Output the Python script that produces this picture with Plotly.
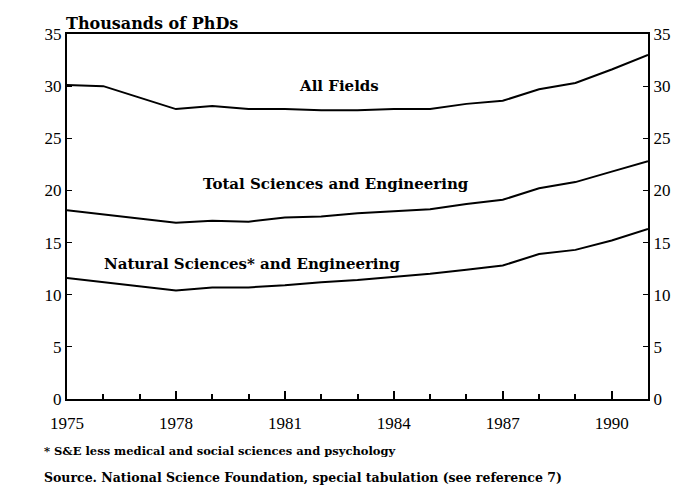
import plotly.graph_objects as go

years = list(range(1975, 1992))
all_fields = [30.1, 30.0, 28.9, 27.8, 28.1, 27.8, 27.8, 27.7, 27.7, 27.8, 27.8, 28.3, 28.6, 29.7, 30.3, 31.6, 33.0]
total_se = [18.1, 17.7, 17.3, 16.9, 17.1, 17.0, 17.4, 17.5, 17.8, 18.0, 18.2, 18.7, 19.1, 20.2, 20.8, 21.8, 22.8]
natural_se = [11.6, 11.2, 10.8, 10.4, 10.7, 10.7, 10.9, 11.2, 11.4, 11.7, 12.0, 12.4, 12.8, 13.9, 14.3, 15.2, 16.3]

x_ticks = [1975, 1978, 1981, 1984, 1987, 1990]
y_ticks = [0, 5, 10, 15, 20, 25, 30, 35]

FONT = "Liberation Serif"
LFONT = "DejaVu Serif"

fig = go.Figure()
for name, vals in [("All Fields", all_fields), ("Total Sciences and Engineering", total_se),
                   ("Natural Sciences* and Engineering", natural_se)]:
    fig.add_trace(go.Scatter(x=years, y=vals, mode="lines", name=name,
                             line=dict(color="black", width=2), showlegend=False))
fig.add_trace(go.Scatter(x=[years[0]], y=[0], yaxis="y2", mode="lines",
                         line=dict(width=0), showlegend=False, hoverinfo="skip"))

axis_font = dict(family=FONT, size=17, color="black")
fig.update_layout(
    width=681, height=481,
    margin=dict(l=59, r=41, t=26, b=90, autoexpand=False),
    paper_bgcolor="white", plot_bgcolor="white",
    xaxis=dict(range=[1975, 1991], tickvals=x_ticks, ticks="inside", ticklen=8, tickwidth=1.5,
               tickcolor="black", showline=True, linecolor="black", linewidth=2, mirror=True,
               showgrid=False, zeroline=False, tickfont=axis_font, ticklabelstandoff=8,
               minor=dict(dtick=1, tick0=1975, ticks="inside", ticklen=5, tickcolor="black", showgrid=False)),
    yaxis=dict(range=[0, 35], tickvals=y_ticks, ticks="inside", ticklen=5, tickcolor="black",
               showline=True, linecolor="black", linewidth=2, showgrid=False, zeroline=False,
               tickfont=axis_font),
    yaxis2=dict(range=[0, 35], tickvals=y_ticks, overlaying="y", side="right", ticks="inside",
                ticklen=5, tickcolor="black", showline=True, linecolor="black", linewidth=2,
                showgrid=False, zeroline=False, tickfont=axis_font),
    annotations=[
        dict(text="<b>Thousands of PhDs</b>", xref="paper", yref="paper", x=-0.005, y=1.0,
             xanchor="left", yanchor="bottom", showarrow=False, yshift=-1,
             font=dict(family=LFONT, size=16, color="black")),
        dict(text="<b>All Fields</b>", x=1982.5, y=30.0, showarrow=False,
             font=dict(family=LFONT, size=15, color="black")),
        dict(text="<b>Total Sciences and Engineering</b>", x=1982.4, y=20.6, showarrow=False,
             font=dict(family=LFONT, size=15, color="black")),
        dict(text="<b>Natural Sciences* and Engineering</b>", x=1980.1, y=12.9, showarrow=False,
             font=dict(family=LFONT, size=15, color="black")),
        dict(text="<b>* S&E less medical and social sciences and psychology</b>", xref="paper", yref="paper",
             x=-0.043, y=-0.142, xanchor="left", yanchor="middle", showarrow=False,
             font=dict(family=LFONT, size=11.5, color="black")),
        dict(text="<b>Source. National Science Foundation, special tabulation (see reference 7)</b>",
             xref="paper", yref="paper", x=-0.043, y=-0.216, xanchor="left", yanchor="middle",
             showarrow=False, font=dict(family=LFONT, size=12.5, color="black")),
    ],
)

fig.write_html("out.html")
